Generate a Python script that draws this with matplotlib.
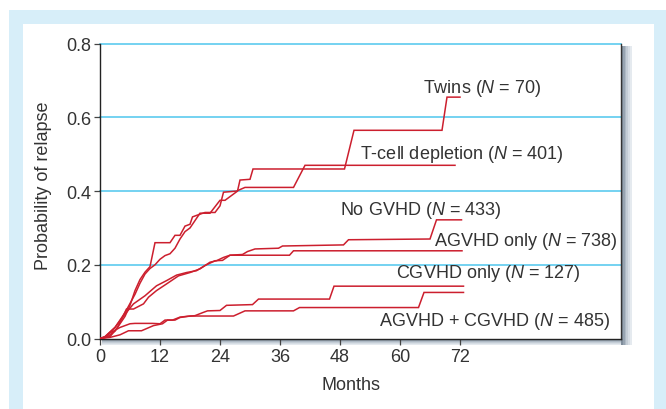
import matplotlib
matplotlib.use("Agg")
import matplotlib.pyplot as plt
from matplotlib.patches import Rectangle

plt.rcParams['font.family'] = ['Liberation Sans', 'DejaVu Sans']
plt.rcParams['mathtext.fontset'] = 'custom'
plt.rcParams['mathtext.rm'] = 'Liberation Sans'
plt.rcParams['mathtext.it'] = 'Liberation Sans:italic'

# months / probability pairs
twins_m = [0, 1, 3, 5, 7, 8, 9, 10, 11, 12, 13, 14, 15, 16, 17, 18, 19, 20, 22, 24, 25, 26,
           27.5, 28, 29, 30, 30.6, 48.9, 50.8, 68.4, 69.4, 72]
twins_p = [0, 0.005, 0.03, 0.07, 0.12, 0.15, 0.175, 0.19, 0.2, 0.215, 0.225, 0.23, 0.245, 0.27,
           0.29, 0.30, 0.32, 0.34, 0.34, 0.375, 0.375, 0.385, 0.40, 0.43, 0.431, 0.432, 0.46,
           0.46, 0.565, 0.565, 0.655, 0.655]

tcell_m = [0, 1.5, 3, 5, 6, 7, 8, 9, 10, 11, 14, 15, 16, 17, 18, 18.5, 19.5, 21, 23, 24, 24.7,
           27.3, 29, 38.7, 41, 71]
tcell_p = [0, 0.005, 0.02, 0.06, 0.09, 0.13, 0.16, 0.18, 0.195, 0.26, 0.26, 0.28, 0.28, 0.305,
           0.31, 0.33, 0.335, 0.342, 0.342, 0.36, 0.397, 0.40, 0.41, 0.41, 0.47, 0.47]

nogvhd_m = [0, 1, 3, 5, 6.7, 9, 11.3, 13.3, 15.3, 17.3, 19.3, 21, 23, 24.5, 26, 28.5, 29.5, 31,
            35.7, 36.5, 48.7, 49.7, 66, 67.3, 72.3]
nogvhd_p = [0, 0.005, 0.03, 0.066, 0.094, 0.116, 0.143, 0.157, 0.172, 0.179, 0.184, 0.198, 0.211,
            0.212, 0.226, 0.228, 0.236, 0.243, 0.245, 0.251, 0.254, 0.268, 0.27, 0.322, 0.322]

agvhd_m = [0, 2, 3.5, 5.3, 6.7, 8.7, 9.7, 11.3, 13.3, 15.7, 18, 20, 21, 22, 23.3, 24.7, 26,
           37.9, 38.7, 72.4]
agvhd_p = [0, 0.005, 0.03, 0.08, 0.08, 0.094, 0.112, 0.13, 0.148, 0.17, 0.179, 0.189, 0.198,
           0.207, 0.211, 0.22, 0.226, 0.226, 0.238, 0.238]

cgvhd_m = [0, 1, 2, 4, 6, 7, 10.5, 12, 13, 15, 16, 17.5, 19, 20.5, 21.5, 24, 25.3, 30.5, 31.7,
           45.9, 46.8, 72.7]
cgvhd_p = [0, 0.003, 0.015, 0.03, 0.04, 0.041, 0.041, 0.04, 0.05, 0.05, 0.057, 0.06, 0.062, 0.07,
           0.075, 0.076, 0.09, 0.092, 0.107, 0.107, 0.142, 0.142]

both_m = [0, 2, 4, 5.7, 8.3, 10.7, 12.5, 13.5, 14.5, 16, 18, 26.7, 29, 38.7, 39.9, 63.7, 64.8, 72.7]
both_p = [0, 0.003, 0.01, 0.021, 0.021, 0.035, 0.04, 0.05, 0.05, 0.058, 0.061, 0.061, 0.075,
          0.075, 0.084, 0.084, 0.125, 0.125]

labels = ['Twins ($N$ = 70)', 'T-cell depletion ($N$ = 401)', 'No GVHD ($N$ = 433)',
          'AGVHD only ($N$ = 738)', 'CGVHD only ($N$ = 127)', 'AGVHD + CGVHD ($N$ = 485)']
label_x = [88.2, 92.8, 80.2, 103.4, 96.0, 102.0]
label_y = [0.682, 0.501, 0.349, 0.265, 0.178, 0.050]

xticks = [0, 12, 24, 36, 48, 60, 72]
yticks = [0.0, 0.2, 0.4, 0.6, 0.8]

red = '#cc1f2e'
txt = '#333333'

fig = plt.figure(figsize=(6.66, 4.10), dpi=100)
W, H = 666.0, 410.0

# panel backgrounds
fig.patches.append(Rectangle((9 / W, 0), (666 - 9) / W, 1 - 10.7 / H, transform=fig.transFigure,
                             facecolor='#d7eef9', edgecolor='none', zorder=-3))
fig.patches.append(Rectangle((22.7 / W, 0), (653.5 - 22.7) / W, 1 - 24.5 / H,
                             transform=fig.transFigure, facecolor='white', edgecolor='none', zorder=-2))

# drop shadow of the plot box
shades = ['#7f8d9b', '#97a4b1', '#afbac5', '#c4cdd6', '#d6dde4', '#e5eaef']
for i, c in enumerate(shades):
    x0 = 621 + i * 1.8
    fig.patches.append(Rectangle((x0 / W, 1 - 346 / H), 1.8 / W, (346 - 47) / H,
                                 transform=fig.transFigure, facecolor=c, edgecolor='none', zorder=-1))
for i, c in enumerate(shades):
    y0 = 340 + i * 1.0
    fig.patches.append(Rectangle((102 / W, 1 - (y0 + 1.0) / H), (621 - 102) / W, 1.0 / H,
                                 transform=fig.transFigure, facecolor=c, edgecolor='none', zorder=-1))

ax = fig.add_axes([100 / W, 1 - 339.5 / H, (621 - 100) / W, (339.5 - 44.7) / H])
ax.set_zorder(2)
ax.set_facecolor('white')

for y in yticks[1:]:
    ax.axhline(y, color='#5ccbef', lw=1.2, zorder=1, clip_on=False)

for m, p in [(twins_m, twins_p), (tcell_m, tcell_p), (nogvhd_m, nogvhd_p),
             (agvhd_m, agvhd_p), (cgvhd_m, cgvhd_p), (both_m, both_p)]:
    ax.plot(m, p, color=red, lw=1.1, zorder=3, solid_joinstyle='miter')

for s, x, y in zip(labels, label_x, label_y):
    ax.text(x, y, s, ha='right', va='center', fontsize=13, color=txt, zorder=4)

ax.set_xlim(0, 104.2)
ax.set_ylim(0, 0.8)
ax.set_xticks(xticks)
ax.set_yticks(yticks)
ax.set_yticklabels(['%.1f' % v for v in yticks])
ax.tick_params(direction='out', length=4.5, width=0.9, color='#444444', labelsize=13,
               labelcolor=txt, pad=2)

ax.spines['top'].set_visible(False)
ax.spines['left'].set_color('#222222')
ax.spines['bottom'].set_color('#222222')
ax.spines['right'].set_color('#333333')
for sp in ['left', 'bottom', 'right']:
    ax.spines[sp].set_linewidth(1.0)

fig.text(351 / W, 1 - 385.5 / H, 'Months', ha='center', va='center', fontsize=13, color=txt)
fig.text(44 / W, 1 - 186 / H, 'Probability of relapse', ha='center', va='center',
         rotation=90, fontsize=13, color=txt)

fig.savefig('out.png', dpi=100)
